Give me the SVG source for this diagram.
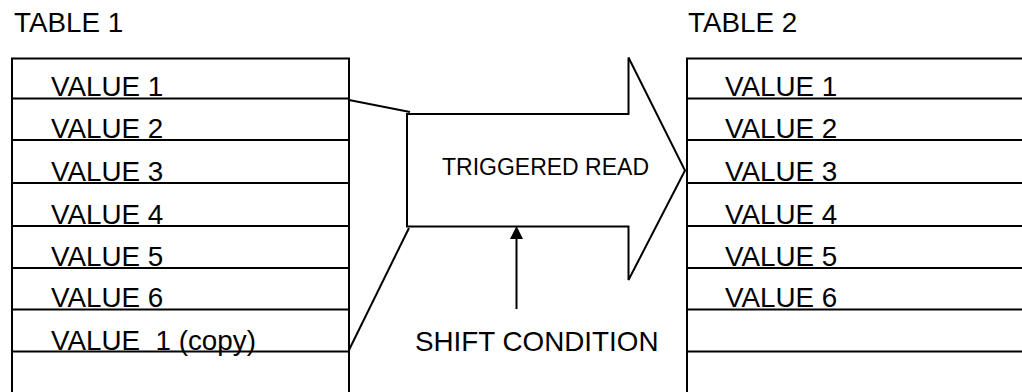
<svg xmlns="http://www.w3.org/2000/svg" width="1022" height="392" viewBox="0 0 1022 392">
  <style>
    .lbl { font-family: "Liberation Sans", Arial, sans-serif; font-size: 27.8px; fill: #000; }
    .mid { font-family: "Liberation Sans", Arial, sans-serif; font-size: 23px; fill: #000; }
    .frame { fill: #fff; stroke: #000; stroke-width: 2; }
    .row { stroke: #000; stroke-width: 1.8; fill: none; }
    .wire { stroke: #000; stroke-width: 2; fill: none; }
  </style>
  <rect width="1022" height="392" fill="#fff"/>

  <!-- Source table -->
  <g id="table1">
    <text class="lbl" x="14" y="32">TABLE 1</text>
    <path class="frame" d="M12,400 V58.5 H349 V400"/>
    <path class="row" d="M12,98.5 H349 M12,140 H349 M12,183 H349 M12,226 H349 M12,268 H349 M12,309.5 H349 M12,351.5 H349"/>
    <text class="lbl" x="51" y="96">VALUE 1</text>
    <text class="lbl" x="51" y="138">VALUE 2</text>
    <text class="lbl" x="51" y="181">VALUE 3</text>
    <text class="lbl" x="51" y="224">VALUE 4</text>
    <text class="lbl" x="51" y="266">VALUE 5</text>
    <text class="lbl" x="51" y="307">VALUE 6</text>
    <text class="lbl" x="51" y="350" xml:space="preserve">VALUE  1 (copy)</text>
  </g>

  <!-- Destination table -->
  <g id="table2">
    <text class="lbl" x="688" y="32">TABLE 2</text>
    <path class="frame" d="M687,400 V58.5 H1030"/>
    <path class="row" d="M687,98.5 H1022 M687,140 H1022 M687,183 H1022 M687,226 H1022 M687,268 H1022 M687,309.5 H1022 M687,351.5 H1022"/>
    <text class="lbl" x="725" y="96">VALUE 1</text>
    <text class="lbl" x="725" y="138">VALUE 2</text>
    <text class="lbl" x="725" y="181">VALUE 3</text>
    <text class="lbl" x="725" y="224">VALUE 4</text>
    <text class="lbl" x="725" y="266">VALUE 5</text>
    <text class="lbl" x="725" y="307">VALUE 6</text>
  </g>

  <!-- Block arrow -->
  <g id="read">
    <path class="frame" d="M407,114 H628.5 V57.5 L685,170.5 L628.5,280 V226.5 H407 Z"/>
    <text class="mid" x="442" y="175">TRIGGERED READ</text>
  </g>

  <g id="shift">
    <text class="lbl" x="415" y="351">SHIFT CONDITION</text>
  </g>

  <g id="connectors">
    <path class="wire" d="M349,100 L410,112"/>
    <path class="wire" d="M409,228 L349,350"/>
    <path class="wire" d="M516.5,309 V236"/>
    <path d="M510,239 L516.5,226 L523,239 Z" fill="#000"/>
  </g>
</svg>
